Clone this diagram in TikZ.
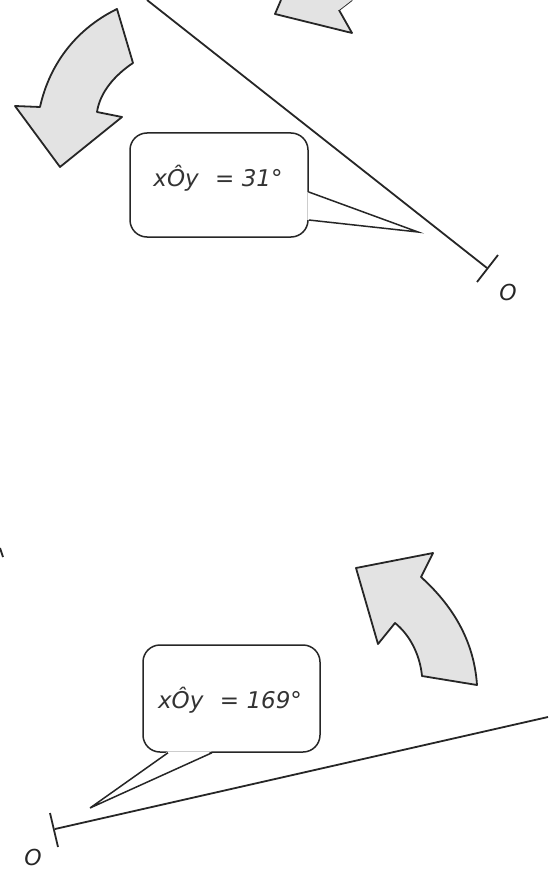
\documentclass[tikz,border=0pt]{standalone}
\usepackage{fontspec}
\setmainfont{DejaVu Sans}
\usetikzlibrary{calc}
\begin{document}
\begin{tikzpicture}[x=1pt,y=-1pt,
  arrowshape/.style={draw=black!85, line width=1.8pt, fill=gray!22, line join=round},
  ray/.style={draw=black!85, line width=1.8pt},
  callbox/.style={draw=black!85, rounded corners=17pt, line width=1.5pt, inner sep=0pt, fill=white},
  pointer/.style={draw=black!85, line width=1.5pt, line join=miter},
  angtext/.style={font=\itshape\fontsize{23}{26}\selectfont, text=black!80, inner sep=0pt, anchor=base},
  olabel/.style={font=\itshape\fontsize{22}{24}\selectfont, text=black!85, inner sep=0pt}]
\useasboundingbox (0,0) rectangle (556,869);

% ---------- top figure ----------
% partial arrow at the top
\filldraw[arrowshape] (281,0) -- (275,14) -- (352,33) -- (339,10) -- (352,0);
\fill[gray!22] (281,0) -- (352,0) -- (339,10) -- cycle;

% curved arrow at top left
\filldraw[arrowshape] (117,9) -- (133,63)
  .. controls (115,75) and (100,92) .. (97,112)
  -- (122,117) -- (60,167) -- (15,106) -- (40,107)
  .. controls (50,62) and (78,28) .. (117,9) -- cycle;

% ray and the tick at O
\coordinate (topstart) at (147,0);
\coordinate (topO) at (487,268);
\draw[ray] (topstart) -- (topO);
\coordinate (tickA) at (498,255);
\coordinate (tickB) at (477,282);
\draw[ray] (tickA) -- (tickB);
\node[olabel] (o1) at (508,292) {O};

% callout
\node[callbox, minimum width=178pt, minimum height=104pt] (box1) at (219,185) {};
\coordinate (b1a) at (box1.east |- 0,192);
\coordinate (b1b) at (box1.east |- 0,220);
\coordinate (tip1) at (418,232);
\fill[white] ($(b1a)+(-1.5,0)$) -- (tip1) -- ($(b1b)+(-1.5,0)$) -- cycle;
\draw[pointer] (b1a) -- (tip1) -- (b1b);
\node[angtext] (t1) at (218,186) {xÔy\hspace{0.4em} = 31°};

% ---------- bottom figure ----------
\draw[ray] (0,548) -- (3,557);

% curved arrow at bottom right
\filldraw[arrowshape] (356,568) -- (433,553) -- (421,577)
  .. controls (452,605) and (474,640) .. (477,685)
  -- (422,676)
  .. controls (420,655) and (410,635) .. (395,623)
  -- (378,644) -- cycle;

% ray and tick at O
\coordinate (botO) at (55,829);
\coordinate (botend) at (548,717);
\draw[ray] (botO) -- (botend);
\coordinate (tickC) at (50,813);
\coordinate (tickD) at (58,847);
\draw[ray] (tickC) -- (tickD);
\node[olabel] (o2) at (33,857) {O};

% callout
\node[callbox, minimum width=177pt, minimum height=107pt] (box2) at (231.5,698.5) {};
\coordinate (b2a) at (box2.south -| 168,0);
\coordinate (b2b) at (box2.south -| 212,0);
\coordinate (tip2) at (90,808);
\fill[white] ($(b2a)+(0,-1.5)$) -- (tip2) -- ($(b2b)+(0,-1.5)$) -- cycle;
\draw[pointer] (b2a) -- (tip2) -- (b2b);
\node[angtext] (t2) at (230,708) {xÔy\hspace{0.4em} = 169°};
\end{tikzpicture}
\end{document}
